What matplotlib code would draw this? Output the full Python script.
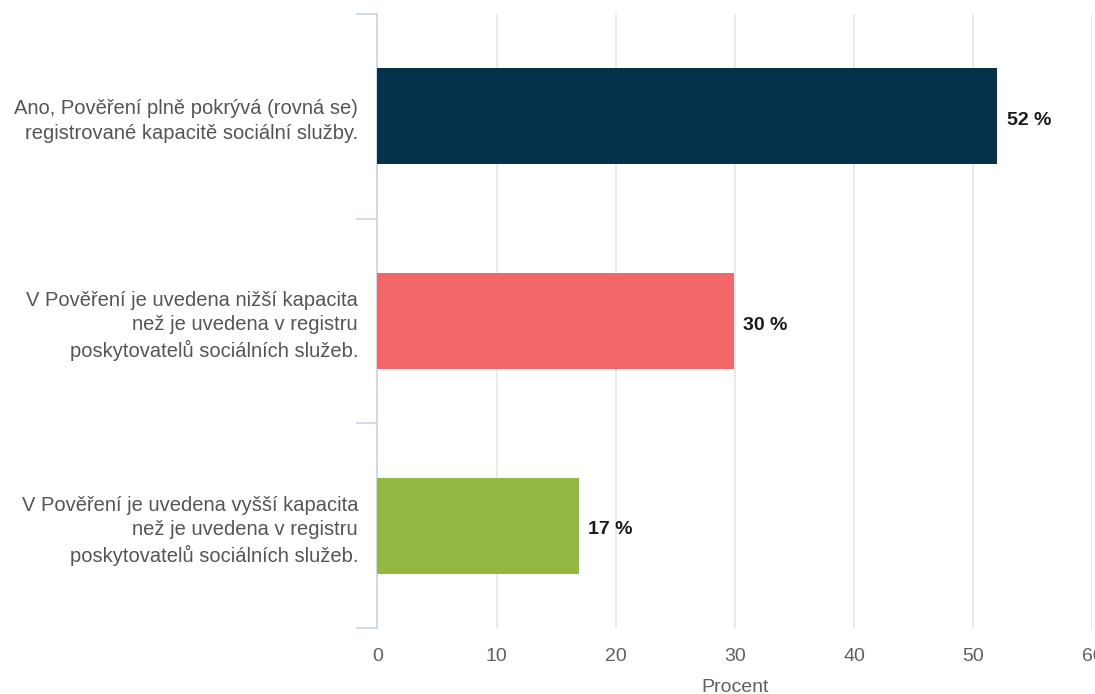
import matplotlib.pyplot as plt
import numpy as np

plt.rcParams['font.family'] = ['Liberation Sans', 'DejaVu Sans']

categories = [
    "Ano, Pověření plně pokrývá (rovná se)\nregistrované kapacitě sociální služby.",
    "V Pověření je uvedena nižší kapacita\nnež je uvedena v registru\nposkytovatelů sociálních služeb.",
    "V Pověření je uvedena vyšší kapacita\nnež je uvedena v registru\nposkytovatelů sociálních služeb.",
]
values = [52.0, 29.9, 16.9]
value_labels = ["52 %", "30 %", "17 %"]
colors = ["#06314A", "#F46769", "#92B843"]
x_ticks = [0, 10, 20, 30, 40, 50, 60]

fig = plt.figure(figsize=(10.95, 6.94), dpi=100)
ax = fig.add_axes([0.3447, 0.0951, 0.653, 0.8847])

y = np.arange(len(categories))
ax.barh(y, values, height=0.47, color=colors, zorder=3)
for yi, v, lab in zip(y, values, value_labels):
    ax.text(v + 0.8, yi + 0.02, lab, va='center', ha='left', fontsize=14,
            fontweight='bold', color='#1a1a1a', zorder=4)

ax.set_ylim(2.5, -0.5)
ax.set_xlim(0, 60)
ax.set_xticks(x_ticks)
ax.set_xticklabels([str(t) for t in x_ticks])
ax.tick_params(axis='x', length=0, labelsize=14, labelcolor='#606060', pad=14.5)
ax.xaxis.grid(True, color='#E6E6E6', linewidth=1.2, zorder=0)
ax.set_xlabel("Procent", fontsize=14, color='#606060', labelpad=10)

ax.set_yticks(y)
ax.set_yticklabels(categories, fontsize=14.5, color='#555555', linespacing=1.35)
ax.tick_params(axis='y', which='major', length=0, pad=14)
ax.set_yticks([-0.5, 0.5, 1.5, 2.5], minor=True)
ax.tick_params(axis='y', which='minor', length=15, color='#C8D4E3', width=1.2)

for s in ['top', 'right', 'bottom']:
    ax.spines[s].set_visible(False)
ax.spines['left'].set_color('#C8D4E3')
ax.spines['left'].set_linewidth(1.2)

fig.savefig("out.png", dpi=100)
